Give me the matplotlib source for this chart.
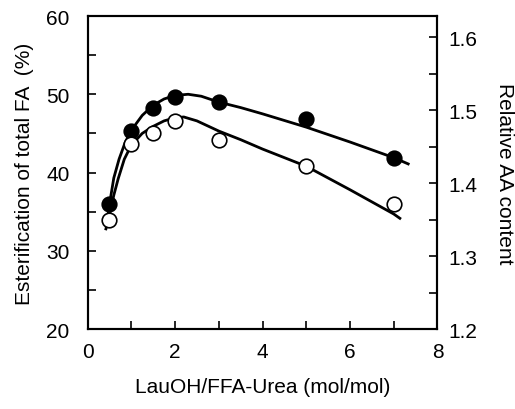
import matplotlib
matplotlib.use("Agg")
import matplotlib.pyplot as plt
from matplotlib.ticker import MultipleLocator

plt.rcParams['font.family'] = ['Liberation Sans', 'DejaVu Sans']

# measured points
x_pts = [0.5, 1.0, 1.5, 2.0, 3.0, 5.0, 7.0]
filled_y = [36.0, 45.3, 48.3, 49.7, 49.0, 46.8, 41.9]
open_y = [33.9, 43.6, 45.1, 46.6, 44.2, 40.8, 36.0]

# fitted curves
filled_cx = [0.45, 0.5, 0.6, 0.72, 0.85, 1.0, 1.25, 1.5, 1.75, 2.0, 2.3, 2.6, 3.0, 3.5, 4.0, 5.0, 6.0, 7.0, 7.33]
filled_cy = [34.0, 35.9, 39.3, 41.7, 43.7, 45.4, 47.3, 48.6, 49.4, 49.85, 50.0, 49.75, 49.0, 48.3, 47.5, 45.8, 43.9, 41.9, 41.1]
open_cx = [0.42, 0.5, 0.6, 0.7, 0.84, 1.0, 1.25, 1.5, 1.75, 2.0, 2.2, 2.5, 3.0, 3.5, 4.0, 5.0, 6.0, 7.0, 7.14]
open_cy = [32.8, 34.6, 37.1, 39.2, 41.7, 43.5, 45.0, 45.9, 46.6, 47.0, 47.1, 46.6, 45.3, 44.2, 43.0, 40.8, 37.8, 34.7, 34.15]

xticks = [0, 2, 4, 6, 8]
left_ticks = [20, 30, 40, 50, 60]
right_ticks = [1.2, 1.3, 1.4, 1.5, 1.6]

FS = 15

fig = plt.figure(figsize=(5.15, 4.1), dpi=100)
ax = fig.add_axes([0.170, 0.195, 0.6795, 0.7635])

ax.plot(filled_cx, filled_cy, color='black', lw=2.0, zorder=2)
ax.plot(open_cx, open_cy, color='black', lw=2.0, zorder=2)
ax.plot(x_pts, filled_y, 'o', ms=10.5, mfc='black', mec='black', mew=1.2, zorder=3, clip_on=False)
ax.plot(x_pts, open_y, 'o', ms=10.5, mfc='white', mec='black', mew=1.2, zorder=3, clip_on=False)

ax.set_xlim(0, 8)
ax.set_ylim(20, 60)
ax.set_xticks(xticks)
ax.set_yticks(left_ticks)
ax.xaxis.set_minor_locator(MultipleLocator(1))
ax.yaxis.set_minor_locator(MultipleLocator(5))
ax.tick_params(axis='both', which='both', direction='in', length=5.5, width=1.2, labelsize=FS)
ax.tick_params(axis='x', which='both', pad=9)
ax.tick_params(axis='y', which='both', pad=13)
ax.tick_params(axis='y', which='both', right=False)
for s in ax.spines.values():
    s.set_linewidth(1.5)

ax.set_xlabel('LauOH/FFA-Urea (mol/mol)', fontsize=FS, labelpad=12)
ax.set_ylabel('Esterification of total FA  (%)', fontsize=FS, labelpad=9)

ax2 = ax.twinx()
ax2.set_ylim(1.2, 1.6288)
ax2.set_yticks(right_ticks)
ax2.set_yticklabels([f'{v:.1f}' for v in right_ticks])
ax2.yaxis.set_minor_locator(MultipleLocator(0.05))
ax2.tick_params(axis='y', which='both', direction='in', length=5.5, width=1.2, labelsize=FS, pad=7.5)
for s in ax2.spines.values():
    s.set_linewidth(1.5)
ax2.set_ylabel('Relative AA content', fontsize=FS, rotation=-90, labelpad=27)

fig.savefig('out.png', dpi=100)
